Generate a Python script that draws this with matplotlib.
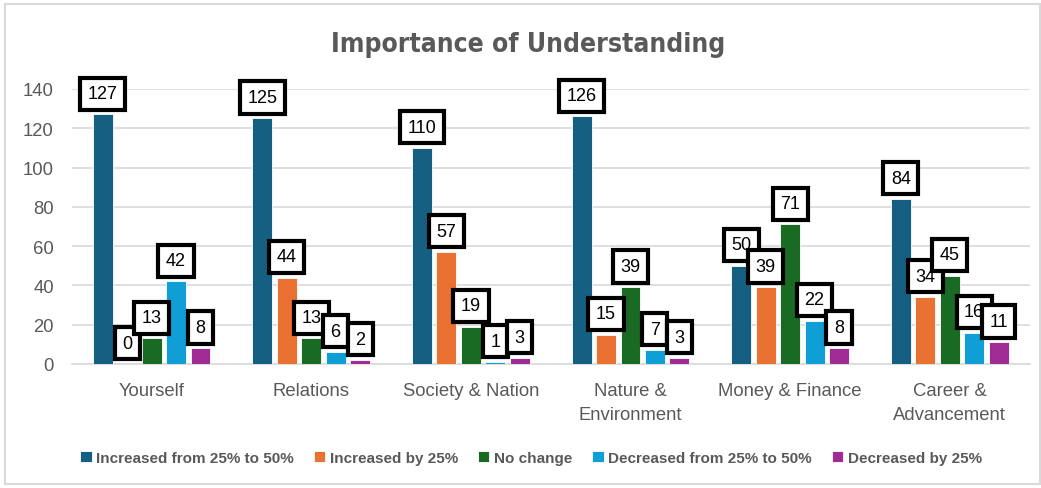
import numpy as np
import matplotlib
matplotlib.use("Agg")
import matplotlib.pyplot as plt
from matplotlib.patches import Rectangle

# categories and series
categories = ["Yourself", "Relations", "Society & Nation", "Nature &\nEnvironment",
              "Money & Finance", "Career &\nAdvancement"]
series_names = ["Increased from 25% to 50%", "Increased by 25%", "No change",
                "Decreased from 25% to 50%", "Decreased by 25%"]
inc_25_50 = [127, 125, 110, 126, 50, 84]
inc_25 = [0, 44, 57, 15, 39, 34]
no_change = [13, 13, 19, 39, 71, 45]
dec_25_50 = [42, 6, 1, 7, 22, 16]
dec_25 = [8, 2, 3, 3, 8, 11]
colors = ["#156082", "#E97132", "#196B24", "#0F9ED5", "#A02B93"]
yticks = [0, 20, 40, 60, 80, 100, 120, 140]

series = [inc_25_50, inc_25, no_change, dec_25_50, dec_25]

fig = plt.figure(figsize=(10.41, 4.89), dpi=100)
fig.patches.append(Rectangle((0.005, 0.008), 0.994, 0.982, transform=fig.transFigure,
                             fill=False, edgecolor="#d9d9d9", linewidth=1.5))
ax = fig.add_axes([0.069, 0.2536, 0.92, 0.5625])

x = np.arange(len(categories))
step = 0.153
width = 0.125
for i, (vals, name, c) in enumerate(zip(series, series_names, colors)):
    pos = x + (i - 2) * step
    ax.bar(pos, vals, width=width, color=c, label=name, zorder=3,
           edgecolor="white", linewidth=0.6)
    for xp, v in zip(pos, vals):
        ax.annotate(str(v), (xp, v), xytext=(0, 15), textcoords="offset points",
                    ha="center", va="center", fontsize=13, family="Liberation Sans",
                    color="black", zorder=5, annotation_clip=False,
                    bbox=dict(boxstyle="square,pad=0.42", fc="white", ec="black", lw=3))

ax.set_xlim(-0.5, len(categories) - 0.5)
ax.set_ylim(0, 140)
ax.set_yticks(yticks)
ax.set_xticks(x)
ax.set_xticklabels(categories, linespacing=1.55)
ax.grid(axis="y", color="#d9d9d9", linewidth=1.2, zorder=0)
ax.tick_params(axis="both", length=0, labelsize=13.3, labelcolor="#595959")
ax.tick_params(axis="x", pad=13)
ax.tick_params(axis="y", pad=13)
for t in ax.get_xticklabels() + ax.get_yticklabels():
    t.set_family("Liberation Sans")
for s in ["top", "right", "left"]:
    ax.spines[s].set_visible(False)
ax.spines["bottom"].set_color("#d9d9d9")
ax.spines["bottom"].set_linewidth(1.2)

fig.text(0.507, 0.907, "Importance of Understanding", ha="center", va="center",
         fontsize=19, fontweight="bold", color="#595959", family="DejaVu Sans",
         fontstretch="condensed")

fig.legend(loc="center", bbox_to_anchor=(0.51, 0.061), ncol=5, frameon=False,
           handlelength=0.75, handleheight=0.75, handletextpad=0.3, columnspacing=1.3,
           prop={"family": "Liberation Sans", "weight": "bold", "size": 11},
           labelcolor="#595959")

fig.savefig("out.png", dpi=100)
